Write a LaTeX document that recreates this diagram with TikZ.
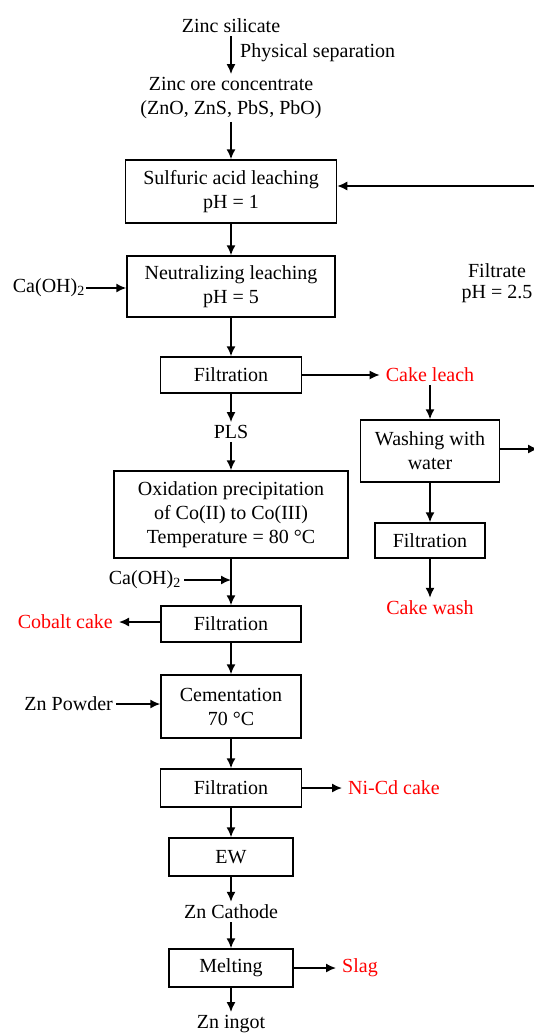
\documentclass[tikz,border=0pt]{standalone}
\usepackage{fontspec}
\setmainfont{Liberation Serif}
\usetikzlibrary{arrows.meta}

\begin{document}
\begin{tikzpicture}[x=1pt, y=-1pt,
    every node/.style={font=\fontsize{20}{24}\selectfont, align=center, inner sep=3pt},
    box/.style={draw, line width=1.5pt, inner sep=0pt},
    waste/.style={text=red, inner xsep=6pt},
    arr/.style={line width=1.5pt, -{Latex[length=10pt,width=9pt]}}]
    \useasboundingbox (0,0) rectangle (534,1036);

    \node at (231, 26) (zs) {Zinc silicate};
    \node[anchor=west] at (237, 53) (phys) {Physical separation};
    \node at (231, 98) (conc) {Zinc ore concentrate\\(ZnO, ZnS, PbS, PbO)};

    \node[box, minimum width=211, minimum height=63] at (231, 191.5) (sulf) {Sulfuric acid leaching\\pH = 1};
    \node[box, minimum width=208, minimum height=61] at (231, 286.5) (neut) {Neutralizing leaching\\pH = 5};
    \node[anchor=east, inner sep=1pt] at (86, 288) (caoh1) {Ca(OH)\textsubscript{2}};
    \node[font=\fontsize{20}{21}\selectfont] at (497, 283) (filtrate) {Filtrate\\pH = 2.5};

    \node[box, minimum width=141, minimum height=36] at (231, 375) (filt1) {Filtration};
    \node[waste] at (430, 375) (cleach) {Cake leach};
    \node[box, minimum width=139, minimum height=62] at (430, 451) (wash) {Washing with\\water};
    \node[box, minimum width=110, minimum height=35] at (430, 540.5) (filt2) {Filtration};
    \node[waste] at (430, 608) (cwash) {Cake wash};
    \coordinate (wout) at (538, 449);
    \coordinate (fin) at (540, 186);

    \node at (231, 432) (pls) {PLS};
    \node[box, minimum width=234, minimum height=87] at (231, 514.5) (oxid) {Oxidation precipitation\\of Co(II) to Co(III)\\Temperature = 80 °C};
    \node[anchor=east] at (184, 580) (caoh2) {Ca(OH)\textsubscript{2}};

    \node[box, minimum width=140, minimum height=36] at (231, 624) (filt3) {Filtration};
    \node[waste, anchor=east] at (119, 622) (cobalt) {Cobalt cake};
    \node[box, minimum width=140, minimum height=63] at (231, 706.5) (cem) {Cementation\\70 °C};
    \node[anchor=east] at (116, 704) (znpow) {Zn Powder};

    \node[box, minimum width=141, minimum height=38] at (231, 788) (filt4) {Filtration};
    \node[waste, anchor=west] at (342, 788) (nicd) {Ni-Cd cake};
    \node[box, minimum width=124, minimum height=38] at (231, 857) (ew) {EW};
    \node at (231, 912) (cath) {Zn Cathode};
    \node[box, minimum width=124, minimum height=38] at (231, 968) (melt) {Melting};
    \node[waste, anchor=west] at (336, 968) (slag) {Slag};
    \node at (231, 1024) (ingot) {Zn ingot};

    \draw[arr] (zs) -- (conc);
    \draw[arr] (conc) -- (sulf);
    \draw[arr] (sulf) -- (neut);
    \draw[arr] (caoh1) -- (caoh1 -| neut.west);
    \draw[arr] (neut) -- (filt1);
    \draw[arr] (filt1) -- (cleach);
    \draw[arr] (cleach) -- (wash);
    \draw[arr] (wash.east |- wout) -- (wout);
    \draw[arr] (fin) -- (fin -| sulf.east);
    \draw[arr] (wash) -- (filt2);
    \draw[arr] (filt2) -- (cwash);
    \draw[arr] (filt1) -- (pls);
    \draw[arr] (pls) -- (oxid);
    \draw[arr] (oxid) -- (filt3);
    \draw[arr] (caoh2) -- (caoh2 -| filt3);
    \draw[arr] (filt3.west |- cobalt) -- (cobalt);
    \draw[arr] (filt3) -- (cem);
    \draw[arr] (znpow) -- (znpow -| cem.west);
    \draw[arr] (cem) -- (filt4);
    \draw[arr] (filt4) -- (nicd);
    \draw[arr] (filt4) -- (ew);
    \draw[arr] (ew) -- (cath);
    \draw[arr] (cath) -- (melt);
    \draw[arr] (melt) -- (slag);
    \draw[arr] (melt) -- (ingot);
\end{tikzpicture}
\end{document}
